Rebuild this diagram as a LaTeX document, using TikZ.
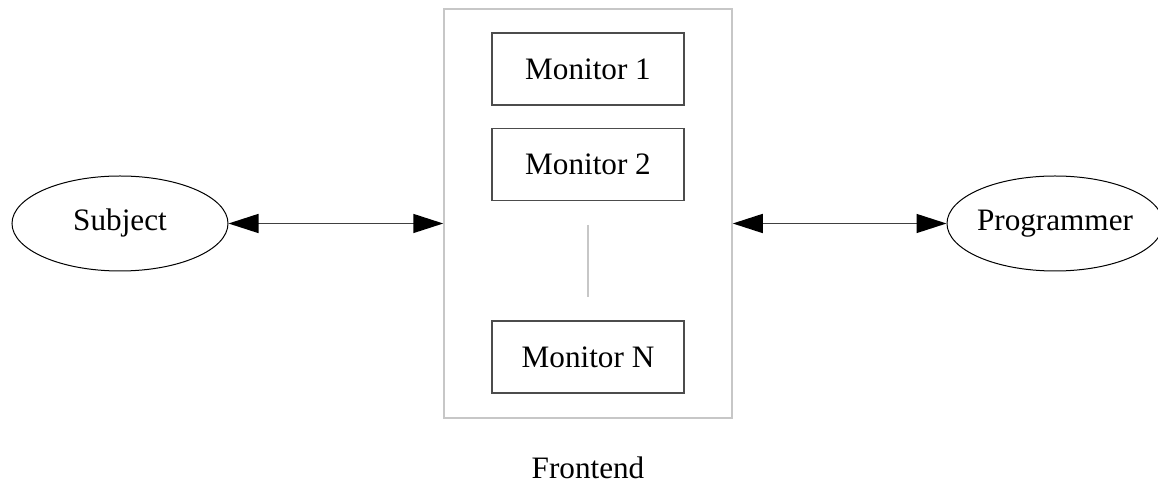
\documentclass[tikz,border=0pt]{standalone}
\usepackage{fontspec}
\setmainfont{Liberation Serif}
\usetikzlibrary{arrows.meta,shapes}
\tikzstyle{actor}=[ellipse,draw,line width=0.5pt,minimum width=108pt,minimum height=47.5pt,inner sep=0pt]
\tikzstyle{monitor}=[rectangle,draw=black!70,line width=0.75pt,minimum width=96pt,minimum height=36pt,inner sep=0pt]
\tikzstyle{frontbox}=[rectangle,draw=black!22,line width=0.75pt,minimum width=144pt,minimum height=204.5pt,inner sep=0pt]
\tikzstyle{link}=[draw,line width=0.75pt,black!75,{Triangle[length=15pt,width=9.5pt,fill=black,color=black]}-{Triangle[length=15pt,width=9.5pt,fill=black,color=black]}]

\begin{document}
\begin{tikzpicture}[x=0.5pt,y=-0.5pt,font=\fontsize{15.6}{18}\selectfont]
\useasboundingbox (0,0) rectangle (1158,485);

    % frontend and its monitors
    \node[frontbox] (front) at (588,213.5) {};
    \foreach \pos/\name/\label in {{(588,69)/mon1/Monitor 1},{(588,164.5)/mon2/Monitor 2},{(588,357)/monN/Monitor N}}
        \node[monitor] (\name) at \pos {\label};

    \coordinate (gapTop) at (588,225);
    \coordinate (gapBot) at (588,297);
    \draw[black!22,line width=0.75pt] (gapTop) -- (gapBot);

    \node (frontlabel) at (588,468) {Frontend};

    % actors
    \node[actor,label=center:Subject] (subject) at (120,223.5) {};
    \node[actor,label=center:Programmer] (prog) at (1055,223.5) {};

    \path[link] (subject.east) -- (subject.east -| front.west);
    \path[link] (prog.west -| front.east) -- (prog.west);

\end{tikzpicture}
\end{document}
